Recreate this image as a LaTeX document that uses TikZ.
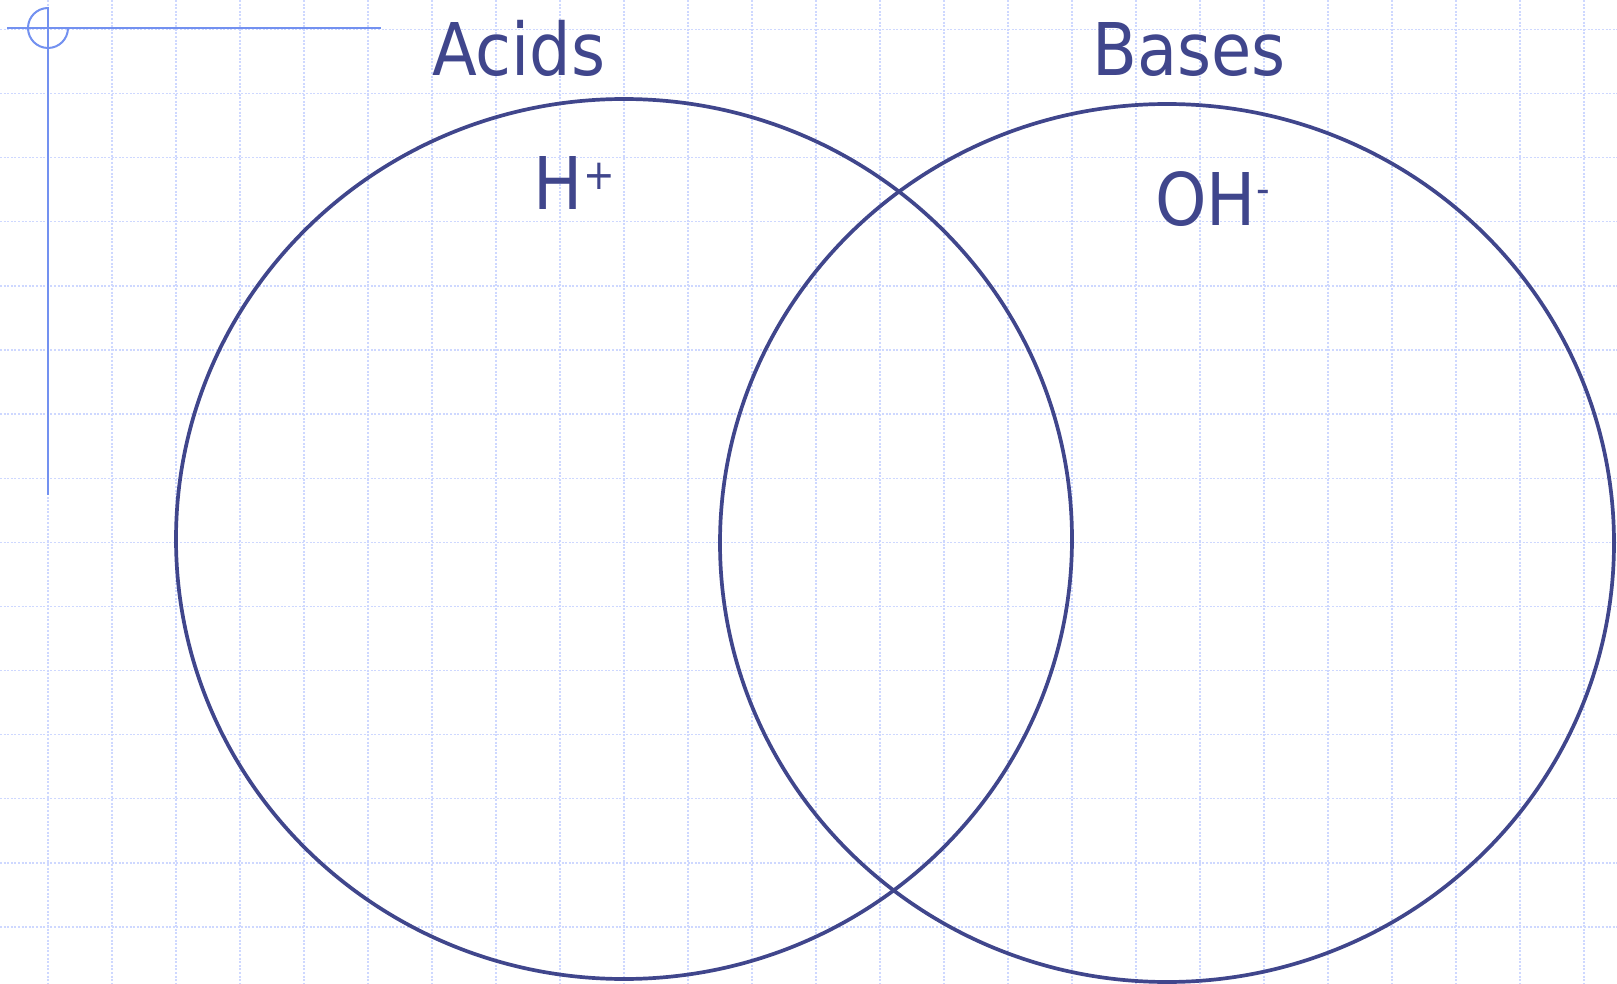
\documentclass[tikz,border=0pt]{standalone}
\usepackage{fontspec}
\setmainfont{DejaVu Sans Condensed}
\usetikzlibrary{shapes.geometric}
\definecolor{ink}{RGB}{64,70,140}
\definecolor{gridc}{RGB}{206,216,255}
\definecolor{deco}{RGB}{115,145,240}
\tikzset{
  gridline/.style={gridc, line width=1.4pt, dash pattern=on 2pt off 1.6pt},
  vennset/.style={draw=ink, line width=3.7pt, ellipse, inner sep=0pt},
  lbl/.style={text=ink, inner sep=0pt, anchor=base west, font=\fontsize{72.7}{80}\selectfont},
  decoline/.style={deco, line width=2pt}
}
\begin{document}
\begin{tikzpicture}[x=1pt,y=-1pt]
\useasboundingbox (0,0) rectangle (1617,984);
\fill[white] (0,0) rectangle (1617,984);
% grid
\foreach \i in {0,...,24} {
  \draw[gridline] (48+64*\i,0) -- (48+64*\i,984);
}
\foreach \j in {0,...,14} {
  \draw[gridline] (0,29.5+64.1*\j) -- (1617,29.5+64.1*\j);
}
% corner decoration
\coordinate (hl) at (7,28);
\coordinate (hr) at (381,28);
\coordinate (vt) at (48,7);
\coordinate (vb) at (48,495);
\draw[decoline] (hl) -- (hr);
\draw[decoline] (vt) -- (vb);
\draw[decoline] (48,8) arc[start angle=270, end angle=0, radius=20];
% sets
\node[vennset, minimum width=896pt, minimum height=880pt] (acids) at (624,539) {};
\node[vennset, minimum width=894pt, minimum height=878pt] (bases) at (1167,543) {};
% labels
\node[lbl] (acidslbl) at (432,76) {Acids};
\node[lbl] (baseslbl) at (1092,76) {Bases};
\node[lbl] (hplus) at (533,210) {H\kern1pt\raisebox{20pt}{\fontsize{42}{46}\selectfont +}};
\node[lbl] (ohminus) at (1155,226) {OH\kern1pt\raisebox{22pt}{\fontsize{42}{46}\selectfont -}};
\end{tikzpicture}
\end{document}
